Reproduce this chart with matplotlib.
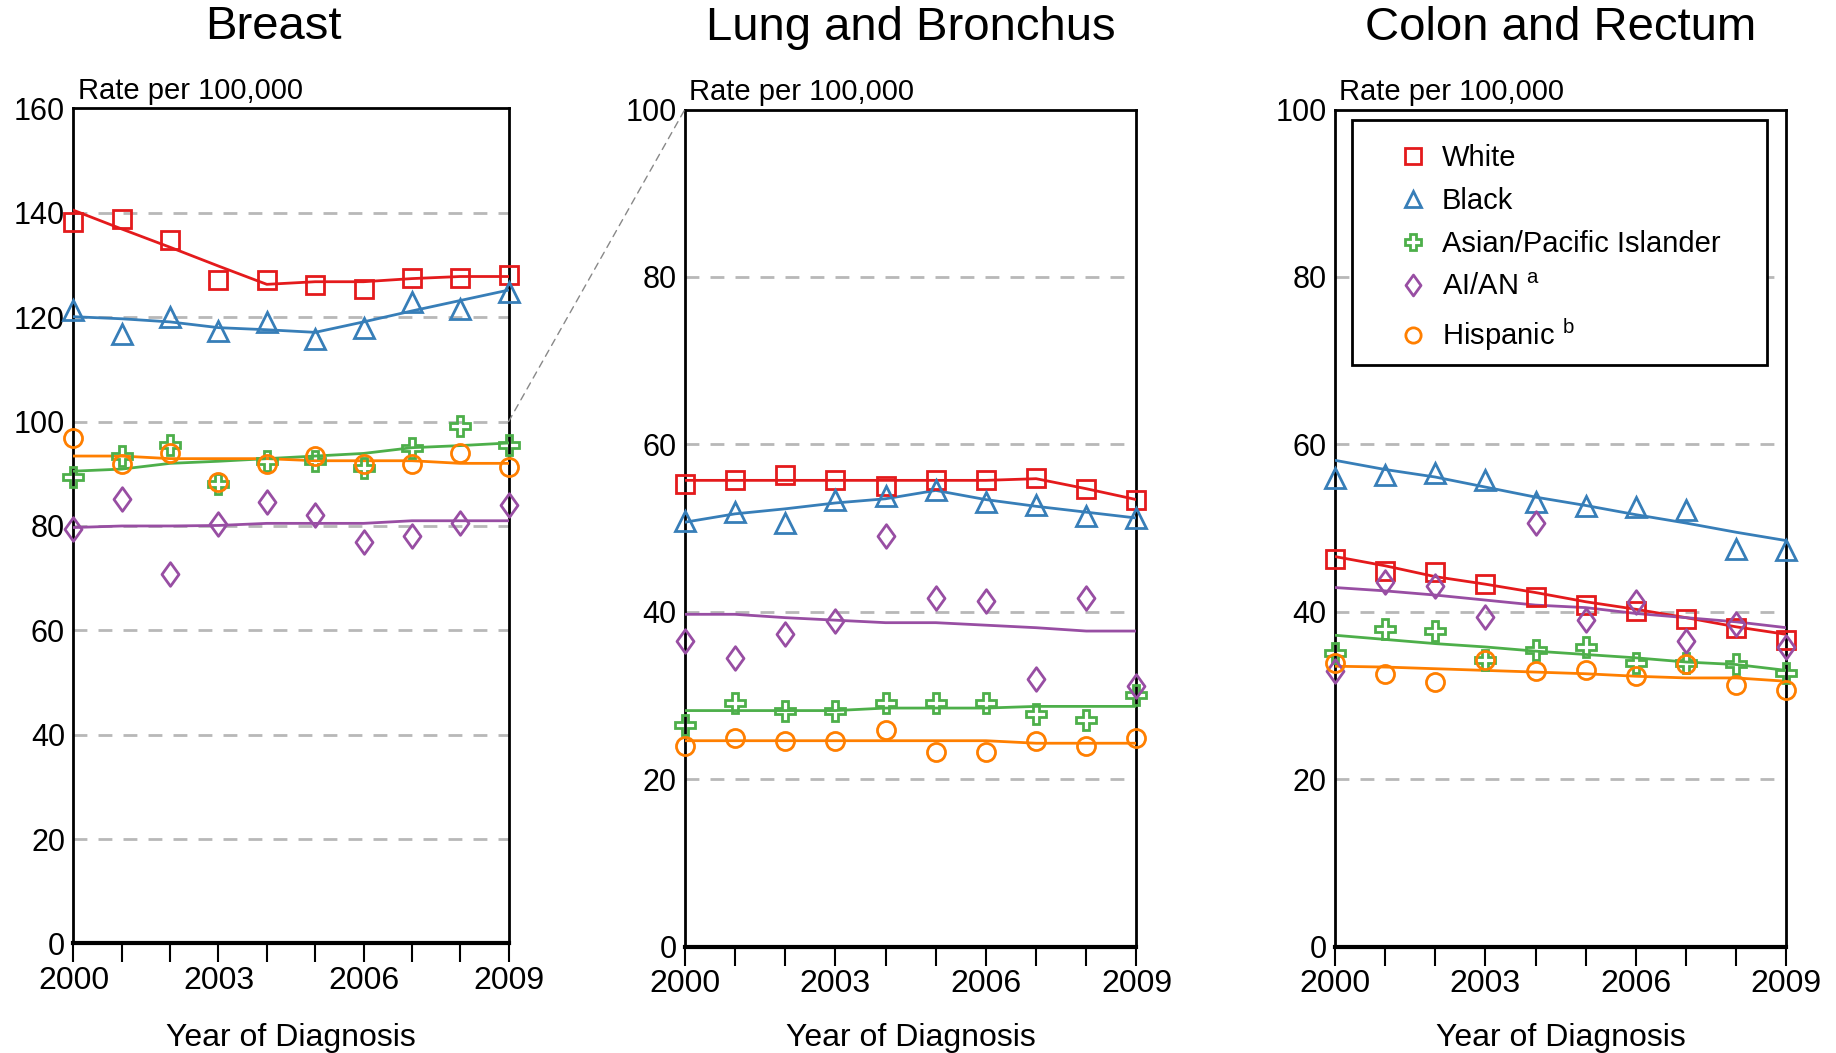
import matplotlib
matplotlib.use("Agg")
import matplotlib.pyplot as plt
from matplotlib.patches import ConnectionPatch, Rectangle
from matplotlib.path import Path
import matplotlib.transforms as mtransforms
import numpy as np

plt.rcParams['font.family'] = ['Liberation Sans', 'DejaVu Sans']
plt.rcParams['mathtext.fontset'] = 'custom'
plt.rcParams['mathtext.rm'] = 'Liberation Sans'

years = np.arange(2000, 2010)
groups = ["White", "Black", "Asian/Pacific Islander", "AI/AN", "Hispanic"]
labels = ["White", "Black", "Asian/Pacific Islander", r"AI/AN $^{\mathrm{a}}$", r"Hispanic $^{\mathrm{b}}$"]
colors = ["#e41a1c", "#377eb8", "#4daf4a", "#984ea3", "#ff7f00"]

# wide diamond like the original
diamond = Path([(0, 1), (0.72, 0), (0, -1), (-0.72, 0), (0, 1)],
               [Path.MOVETO, Path.LINETO, Path.LINETO, Path.LINETO, Path.CLOSEPOLY])
markers = ["s", "^", "P", diamond, "o"]
msizes = [13, 14, 14, 17, 13]

# observed rates (points) and fitted trends (lines)
breast_obs = {
    "White": [138.3, 138.8, 134.7, 127.1, 127.1, 126.1, 125.5, 127.6, 127.6, 128.1],
    "Black": [121.4, 116.8, 120.0, 117.4, 119.0, 115.8, 117.9, 122.9, 121.5, 124.9],
    "Asian/Pacific Islander": [89.3, 93.4, 95.5, 88.0, 92.5, 92.5, 91.2, 94.9, 99.2, 95.5],
    "AI/AN": [79.4, 85.1, 70.8, 80.3, 84.6, 82.1, 76.9, 78.0, 80.6, 84.1],
    "Hispanic": [96.9, 91.8, 93.9, 88.5, 91.8, 93.4, 91.8, 91.8, 93.9, 91.3],
}
breast_fit = {
    "White": [140.5, 136.9, 133.4, 129.8, 126.3, 126.8, 126.8, 127.4, 127.8, 127.8],
    "Black": [120.1, 119.7, 119.1, 118.0, 117.6, 117.1, 119.1, 121.2, 123.2, 125.2],
    "Asian/Pacific Islander": [90.5, 90.9, 92.0, 92.4, 92.9, 93.4, 93.9, 95.0, 95.4, 95.9],
    "AI/AN": [79.7, 80.0, 80.0, 80.1, 80.5, 80.5, 80.5, 81.0, 81.0, 81.0],
    "Hispanic": [93.4, 93.4, 92.9, 92.9, 92.9, 92.5, 92.5, 92.5, 92.0, 92.0],
}
lung_obs = {
    "White": [55.3, 55.7, 56.3, 55.7, 55.0, 55.7, 55.7, 56.0, 54.7, 53.4],
    "Black": [50.8, 51.9, 50.6, 53.4, 53.8, 54.5, 53.1, 52.8, 51.5, 51.2],
    "Asian/Pacific Islander": [26.5, 29.1, 28.2, 28.2, 29.1, 29.1, 29.1, 27.8, 27.1, 30.1],
    "AI/AN": [36.5, 34.5, 37.4, 38.9, 49.0, 41.6, 41.3, 32.0, 41.6, 31.1],
    "Hispanic": [24.0, 24.9, 24.6, 24.6, 25.9, 23.3, 23.3, 24.6, 24.0, 24.9],
}
lung_fit = {
    "White": [55.7, 55.7, 55.7, 55.7, 55.7, 55.7, 55.7, 55.9, 54.7, 53.4],
    "Black": [50.7, 51.7, 52.3, 53.0, 53.5, 54.5, 53.4, 52.6, 51.9, 51.2],
    "Asian/Pacific Islander": [28.2, 28.2, 28.2, 28.2, 28.5, 28.5, 28.5, 28.7, 28.7, 28.7],
    "AI/AN": [39.7, 39.7, 39.3, 39.0, 38.7, 38.7, 38.4, 38.1, 37.7, 37.7],
    "Hispanic": [24.6, 24.6, 24.6, 24.6, 24.6, 24.6, 24.6, 24.3, 24.3, 24.3],
}
colon_obs = {
    "White": [46.3, 44.9, 44.7, 43.3, 41.8, 40.8, 40.1, 39.1, 38.1, 36.6],
    "Black": [56.0, 56.4, 56.6, 55.7, 53.1, 52.6, 52.5, 52.2, 47.5, 47.4],
    "Asian/Pacific Islander": [35.1, 38.0, 37.7, 34.2, 35.4, 35.8, 33.9, 33.9, 33.8, 32.7],
    "AI/AN": [32.9, 43.6, 43.1, 39.4, 50.6, 39.0, 41.2, 36.5, 38.5, 35.8],
    "Hispanic": [33.9, 32.6, 31.6, 34.2, 32.9, 33.0, 32.3, 33.8, 31.3, 30.7],
}
colon_fit = {
    "White": [46.6, 45.5, 44.2, 43.3, 42.3, 41.2, 40.3, 39.3, 38.2, 37.3],
    "Black": [58.1, 57.0, 56.1, 54.9, 53.7, 52.7, 51.6, 50.6, 49.5, 48.5],
    "Asian/Pacific Islander": [37.2, 36.7, 36.2, 35.8, 35.3, 34.9, 34.5, 34.0, 33.7, 33.0],
    "AI/AN": [42.9, 42.5, 42.0, 41.4, 40.8, 40.5, 39.8, 39.3, 38.8, 38.1],
    "Hispanic": [33.5, 33.4, 33.2, 33.0, 32.8, 32.6, 32.3, 32.1, 32.1, 31.7],
}

panels = [
    ("Breast", breast_obs, breast_fit, 160),
    ("Lung and Bronchus", lung_obs, lung_fit, 100),
    ("Colon and Rectum", colon_obs, colon_fit, 100),
]
boxes = [
    [0.040, 0.104, 0.237, 0.793],
    [0.373, 0.101, 0.246, 0.795],
    [0.727, 0.101, 0.246, 0.795],
]
title_x = [0.46, 0.5, 0.5]

fig = plt.figure(figsize=(18.36, 10.53), dpi=100)
axes = []
for (title, obs, fit, ymax), box, tx in zip(panels, boxes, title_x):
    ax = fig.add_axes(box)
    for g, c, m, ms in zip(groups, colors, markers, msizes):
        ax.plot(years, fit[g], color=c, lw=2, zorder=3)
        ax.plot(years, obs[g], ls='none', marker=m, ms=ms,
                mfc='none', mec=c, mew=2, clip_on=False, zorder=4)
    ax.set_xlim(2000, 2009)
    ax.set_ylim(0, ymax)
    ax.set_yticks(np.arange(0, ymax + 1, 20))
    for yv in np.arange(20, ymax, 20):
        ax.axhline(yv, color='#b8b8b8', lw=2, ls=(0, (5, 4)), zorder=1)
    ax.set_xticks([2000, 2003, 2006, 2009])
    ax.set_xticks(years, minor=True)
    ax.tick_params(axis='x', which='both', direction='out', length=14, width=1.5,
                   labelsize=23, pad=2)
    ax.tick_params(axis='y', length=0, labelsize=22, pad=6)
    for s in ax.spines.values():
        s.set_linewidth(2)
    ax.spines['bottom'].set_linewidth(3)
    ax.set_title(title, fontsize=34, pad=50, x=tx)
    trans = mtransforms.blended_transform_factory(ax.transAxes, fig.transFigure)
    ax.text(0.5, 0.014, "Year of Diagnosis", transform=trans, fontsize=23,
            ha='center', va='center')
    ax.text(0.01, 1.004, "Rate per 100,000", transform=ax.transAxes,
            fontsize=21, ha='left', va='bottom')
    axes.append(ax)

# legend frame drawn separately so the padding matches the original
axes[2].add_patch(Rectangle((0.039, 0.695), 0.917, 0.292, transform=axes[2].transAxes,
                            facecolor='white', edgecolor='black', lw=2, zorder=5))
handles = [plt.Line2D([], [], ls='none', marker=m, ms=ms - 2,
                      mfc='none', mec=c, mew=2)
           for c, m, ms in zip(colors, markers, msizes)]
leg = axes[2].legend(handles, labels, loc='upper left',
                     bbox_to_anchor=(0.142, 0.959),
                     fontsize=21, frameon=False, borderpad=0,
                     labelspacing=0.52, handletextpad=0.47,
                     borderaxespad=0, handlelength=1.0)
leg.set_zorder(6)

con = ConnectionPatch(xyA=(2009, 100), coordsA=axes[0].transData,
                      xyB=(2000, 100), coordsB=axes[1].transData,
                      color='#888888', lw=1, ls=(0, (5, 4)))
fig.add_artist(con)

fig.savefig("out.png", dpi=100)
